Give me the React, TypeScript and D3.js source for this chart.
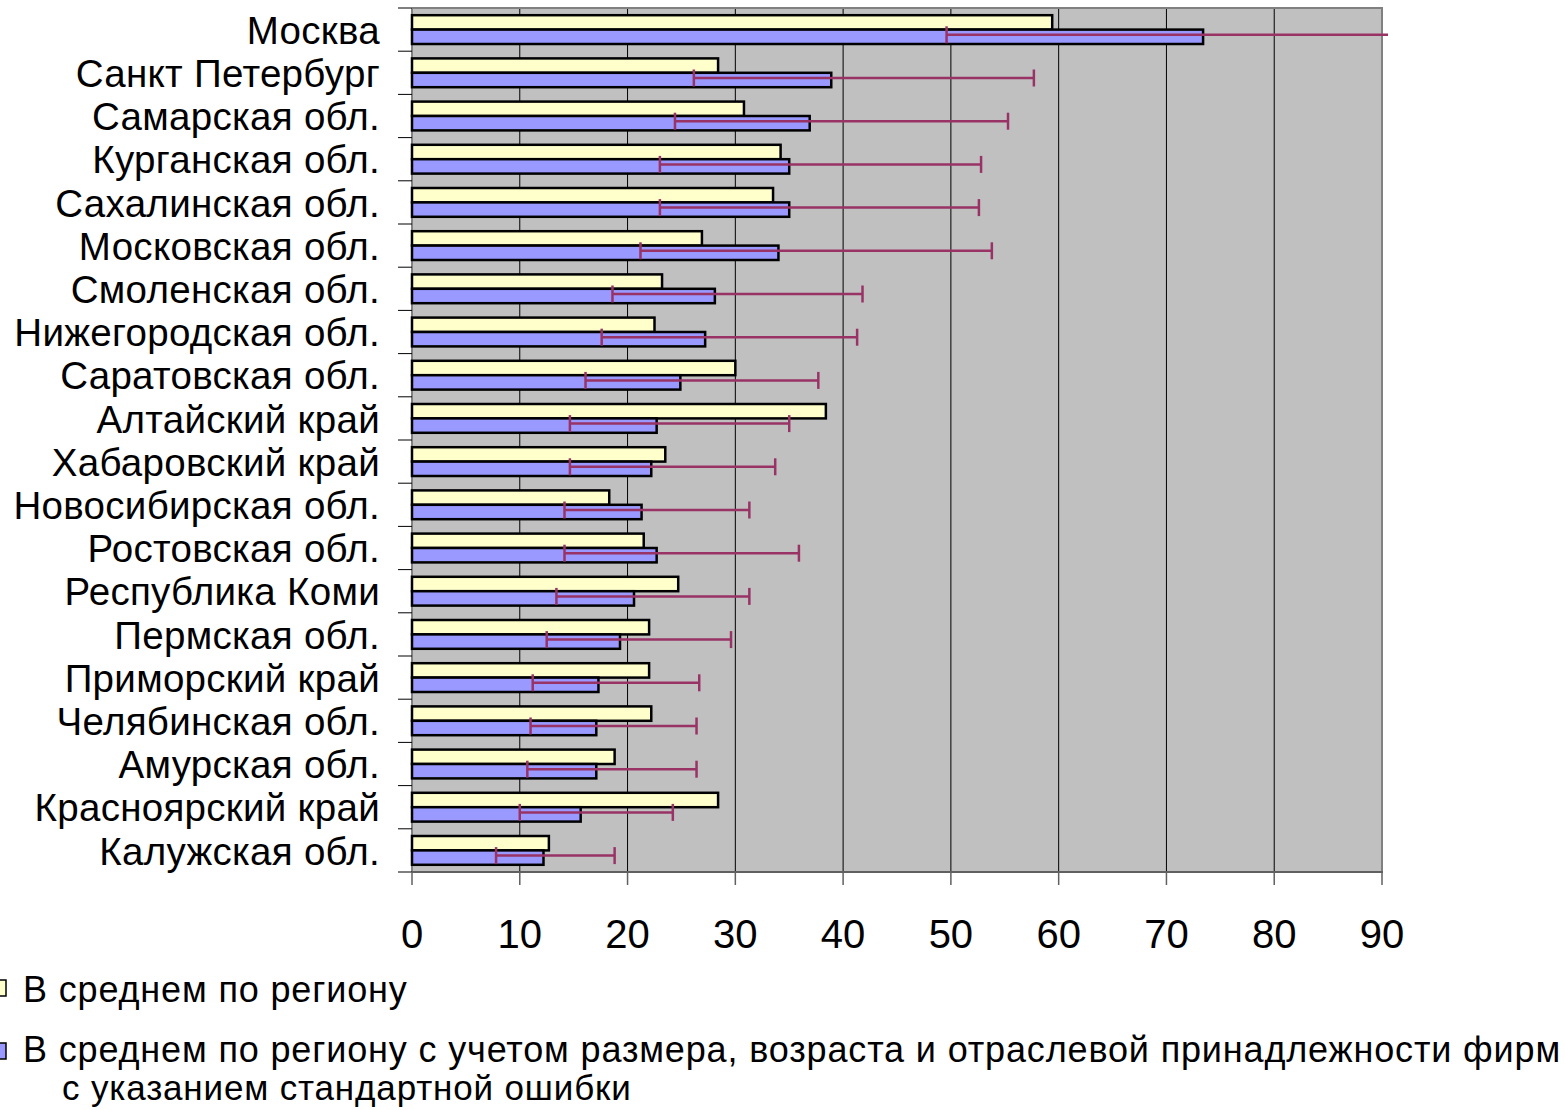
import React from "react";
import * as d3 from "d3";

const categories = [
  "Москва",
  "Санкт Петербург",
  "Самарская обл.",
  "Курганская обл.",
  "Сахалинская обл.",
  "Московская обл.",
  "Смоленская обл.",
  "Нижегородская обл.",
  "Саратовская обл.",
  "Алтайский край",
  "Хабаровский край",
  "Новосибирская обл.",
  "Ростовская обл.",
  "Республика Коми",
  "Пермская обл.",
  "Приморский край",
  "Челябинская обл.",
  "Амурская обл.",
  "Красноярский край",
  "Калужская обл.",
];

const avgValues = [59.4, 28.4, 30.8, 34.2, 33.5, 26.9, 23.2, 22.5, 30.0, 38.4, 23.5, 18.3, 21.5, 24.7, 22.0, 22.0, 22.2, 18.8, 28.4, 12.7];
const adjValues = [73.4, 38.9, 36.9, 35.0, 35.0, 34.0, 28.1, 27.2, 24.9, 22.7, 22.2, 21.3, 22.7, 20.6, 19.3, 17.3, 17.1, 17.1, 15.65, 12.2];
const errLow = [49.6, 26.15, 24.4, 23.0, 23.0, 21.2, 18.6, 17.6, 16.1, 14.65, 14.65, 14.15, 14.15, 13.4, 12.5, 11.2, 11.0, 10.7, 10.0, 7.8];
const errHigh = [105, 57.7, 55.3, 52.8, 52.6, 53.8, 41.8, 41.3, 37.7, 35.0, 33.7, 31.3, 35.9, 31.3, 29.6, 26.65, 26.4, 26.4, 24.2, 18.8];
const xTicks = [0, 10, 20, 30, 40, 50, 60, 70, 80, 90];

const legendLabels = [
  "В среднем по региону",
  "В среднем по региону с учетом размера, возраста и отраслевой принадлежности фирм",
  "с указанием стандартной ошибки",
];

const W = 1565;
const H = 1110;
const plotL = 412;
const plotR = 1382;
const plotT = 8;
const plotB = 872;
const FONT = "'Liberation Sans', Arial, sans-serif";
const YELLOW = "#FFFFCC";
const BLUE = "#9999FF";
const ERR = "#993366";

export default function App() {
  const x = d3.scaleLinear().domain([0, 90]).range([plotL, plotR]);
  const y = d3
    .scaleBand<string>()
    .domain(categories)
    .range([plotT, plotB])
    .paddingInner(1 / 3)
    .paddingOuter(1 / 6);
  const bw = y.bandwidth() / 2;
  const step = y.step();
  const boundaries = d3.range(categories.length + 1).map((k) => plotT + k * step);

  return (
    <svg
      width={W}
      height={H}
      style={{ position: "absolute", left: 0, top: 0, background: "#fff" }}
      fontFamily={FONT}
    >
      <defs>
        <clipPath id="errclip">
          <rect x={plotL - 5} y={0} width={plotR - plotL + 11} height={H} />
        </clipPath>
      </defs>
      {/* plot background */}
      <rect x={plotL} y={plotT} width={plotR - plotL} height={plotB - plotT} fill="#C0C0C0" />
      {/* gridlines */}
      {xTicks.slice(1, -1).map((t) => (
        <line key={"g" + t} x1={x(t)} x2={x(t)} y1={plotT} y2={plotB} stroke="#000" strokeWidth={1} />
      ))}
      {/* border top & right */}
      <line x1={plotL} x2={plotR + 1} y1={plotT} y2={plotT} stroke="#808080" strokeWidth={2} />
      <line x1={plotR} x2={plotR} y1={plotT} y2={plotB} stroke="#808080" strokeWidth={2} />
      {/* left axis */}
      <line x1={plotL} x2={plotL} y1={plotT} y2={plotB} stroke="#808080" strokeWidth={2} />
      {boundaries.map((b, i) => (
        <line key={"lt" + i} x1={plotL - 14} x2={plotL} y1={b} y2={b} stroke="#000" strokeWidth={1} />
      ))}
      {/* bottom axis */}
      <line x1={plotL} x2={plotR + 1} y1={plotB} y2={plotB} stroke="#606060" strokeWidth={2} />
      {xTicks.map((t) => (
        <line key={"bt" + t} x1={x(t)} x2={x(t)} y1={plotB} y2={plotB + 13} stroke="#606060" strokeWidth={1.5} />
      ))}
      {/* bars */}
      {categories.map((c, i) => {
        const y0 = y(c) as number;
        return (
          <g key={c}>
            <rect
              x={x(0)}
              y={y0}
              width={x(avgValues[i]) - x(0)}
              height={bw}
              fill={YELLOW}
              stroke="#000"
              strokeWidth={2.5}
            />
            <rect
              x={x(0)}
              y={y0 + bw}
              width={x(adjValues[i]) - x(0)}
              height={bw}
              fill={BLUE}
              stroke="#000"
              strokeWidth={2.5}
            />
          </g>
        );
      })}
      {/* error bars */}
      <g clipPath="url(#errclip)">
        {categories.map((c, i) => {
          const yc = (y(c) as number) + bw * 1.5 - 2;
          const x1 = x(errLow[i]);
          const x2 = x(errHigh[i]);
          return (
            <g key={"e" + c} stroke={ERR} strokeWidth={2.5}>
              <line x1={x1} x2={x2} y1={yc} y2={yc} />
              <line x1={x1} x2={x1} y1={yc - 8.5} y2={yc + 8.5} />
              <line x1={x2} x2={x2} y1={yc - 8.5} y2={yc + 8.5} />
            </g>
          );
        })}
      </g>
      {/* category labels */}
      {categories.map((c) => (
        <text
          key={"l" + c}
          x={380}
          y={(y(c) as number) + y.bandwidth() / 2}
          dy="0.37em"
          textAnchor="end"
          fontSize={38.5}
          letterSpacing={0.3}
          fill="#000"
        >
          {c}
        </text>
      ))}
      {/* x tick labels */}
      {xTicks.map((t) => (
        <text key={"xt" + t} x={x(t)} y={948} textAnchor="middle" fontSize={40} fill="#000">
          {t}
        </text>
      ))}
      {/* legend */}
      <rect x={-10} y={980} width={16} height={16} fill={YELLOW} stroke="#000" strokeWidth={1.5} />
      <rect x={-10} y={1043} width={16} height={16} fill={BLUE} stroke="#000" strokeWidth={1.5} />
      <text x={23} y={1002} fontSize={36} letterSpacing={0.85} fill="#000">
        {legendLabels[0]}
      </text>
      <text x={23} y={1062} fontSize={36} letterSpacing={0.85} fill="#000">
        {legendLabels[1]}
      </text>
      <text x={62} y={1100} fontSize={35} letterSpacing={0.85} fill="#000">
        {legendLabels[2]}
      </text>
    </svg>
  );
}
